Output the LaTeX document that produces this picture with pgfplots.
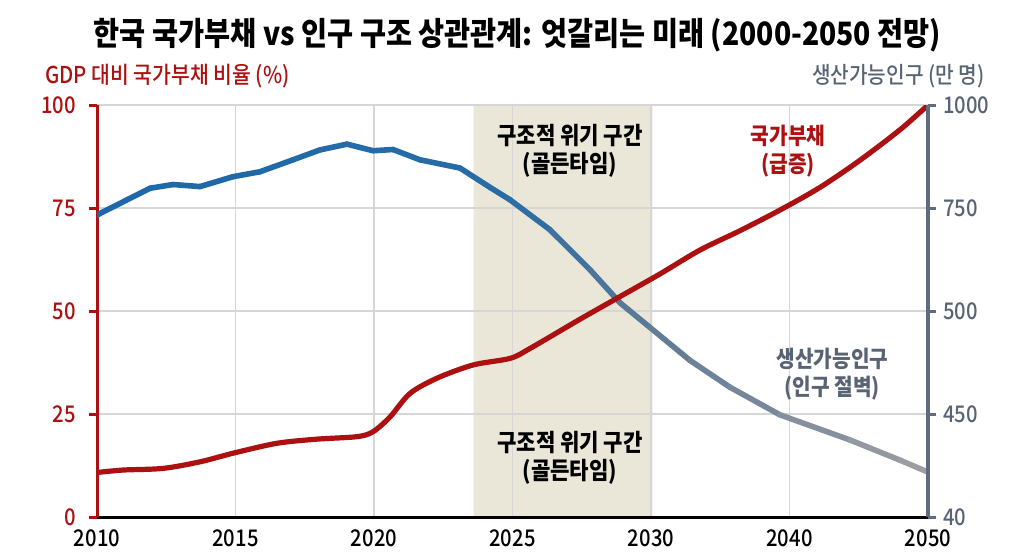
\documentclass[border=0pt]{standalone}
\usepackage{fontspec}
\setmainfont{Noto Sans CJK KR}[FakeStretch=0.88]
\newfontfamily\med{Noto Sans CJK KR Medium}[FakeStretch=0.88]
\usepackage{pgfplots}
\pgfplotsset{compat=1.18}
\usetikzlibrary{calc}

\definecolor{debt}{RGB}{172,16,16}
\definecolor{slate}{RGB}{95,108,125}
\definecolor{slatetxt}{RGB}{88,100,116}
\definecolor{band}{RGB}{234,231,216}
\definecolor{gridc}{RGB}{214,214,214}

\pgfplotsset{colormap={popmap}{rgb255(0cm)=(28,104,170) rgb255(3cm)=(40,108,165) rgb255(4cm)=(96,122,150) rgb255(6cm)=(160,160,163)}}

\begin{document}
\begin{tikzpicture}
\begin{axis}[name=ax, set layers, scale only axis, width=415.5pt, height=206pt,
  xmin=0, xmax=6, ymin=0, ymax=100,
  axis y line*=left, axis x line*=bottom,
  xtick={0,1,2,3,4,5,6}, xticklabels={2010,2015,2020,2025,2030,2040,2050},
  ytick={0,25,50,75,100},
  grid=major, grid style={gridc, line width=0.6pt},
  x axis line style={black, line width=1.5pt, -},
  y axis line style={debt, line width=1.5pt, -},
  tick align=outside, major tick length=4pt,
  xtick style={draw=none},
  ytick style={debt, line width=1.5pt},
  /pgf/number format/assume math mode=true,
  xticklabel style={black, font=\med\fontsize{11.5}{13}\selectfont, yshift=1pt},
  yticklabel style={debt, font=\med\fontsize{11.5}{13}\selectfont, xshift=-3pt},
  point meta min=0, point meta max=6,
  clip=true,
]
\addplot[fill=band, draw=none, on layer=axis background] coordinates {(2.72,0) (4.01,0) (4.01,100) (2.72,100)} \closedcycle;

\addplot[mesh, point meta=x, colormap name=popmap, line width=2.8pt, line cap=round, line join=round] coordinates {
(0,73.3) (0.383,79.8) (0.549,80.7) (0.744,80.2) (0.982,82.6) (1.177,83.8) (1.415,86.7) (1.610,89.1) (1.805,90.5) (1.993,88.9) (2.137,89.2) (2.332,86.7) (2.621,84.7) (2.838,80) (2.982,77) (3.271,69.7) (3.560,60) (3.776,52) (3.993,46) (4.282,38) (4.570,31.5) (4.931,24.8) (5.437,18.7) (5.798,13.8) (6,10.9)};

\addplot[debt, line width=2.6pt, smooth, tension=0.5] coordinates {
(0,10.8) (0.188,11.4) (0.477,11.8) (0.744,13.4) (0.996,15.6) (1.30,17.9) (1.588,18.9) (1.877,19.5) (1.993,20.7) (2.116,24.3) (2.26,30) (2.455,33.7) (2.715,36.9) (2.982,38.5) (3.126,40.9) (3.487,48) (3.776,53.5) (4.065,59) (4.354,64.8) (4.643,69.5) (4.931,74.5) (5.22,80) (5.509,86.6) (5.798,94) (6,100)};

\node[font=\bfseries\fontsize{12}{14}\selectfont, align=center] at (axis cs:3.415,88.9) {구조적 위기 구간\\(골든타임)};
\node[font=\bfseries\fontsize{12}{14}\selectfont, align=center] at (axis cs:3.415,14.35) {구조적 위기 구간\\(골든타임)};
\node[font=\bfseries\fontsize{11.5}{14}\selectfont, align=center, text=debt] at (axis cs:4.99,88.9) {국가부채\\(급증)};
\node[font=\bfseries\fontsize{11.5}{14}\selectfont, align=center, text=slatetxt] at (axis cs:5.31,34.7) {생산가능인구\\(인구 절벽)};
\end{axis}

\begin{axis}[at={(ax.south west)}, anchor=south west, scale only axis, width=415.5pt, height=206pt,
  xmin=0, xmax=6, ymin=0, ymax=100,
  axis y line*=right, axis x line=none,
  ytick={0,25,50,75,100}, yticklabels={40,450,500,750,1000},
  y axis line style={slate, line width=2pt, -},
  tick align=outside, major tick length=4pt,
  ytick style={slate, line width=1.5pt},
  yticklabel style={slatetxt, font=\med\fontsize{11.5}{13}\selectfont},
]
\end{axis}

\node[font=\bfseries\fontsize{16.1}{18}\selectfont] at ($(ax.north)+(2.5pt,35pt)$) {한국 국가부채 vs 인구 구조 상관관계: 엇갈리는 미래 (2000-2050 전망)};
\node[anchor=west, inner sep=0pt, text=debt, font=\med\fontsize{11.6}{13}\selectfont] at ($(ax.north west)+(-26pt,14.5pt)$) {GDP 대비 국가부채 비율 (\%)};
\node[anchor=east, inner sep=0pt, text=slatetxt, font=\med\fontsize{11.5}{13}\selectfont] at ($(ax.north east)+(28.5pt,14.5pt)$) {생산가능인구 (만 명)};

\pgfresetboundingbox
\path ($(ax.south west)+(-48.5pt,-21pt)$) rectangle ($(ax.north east)+(48pt,52.5pt)$);
\end{tikzpicture}
\end{document}
